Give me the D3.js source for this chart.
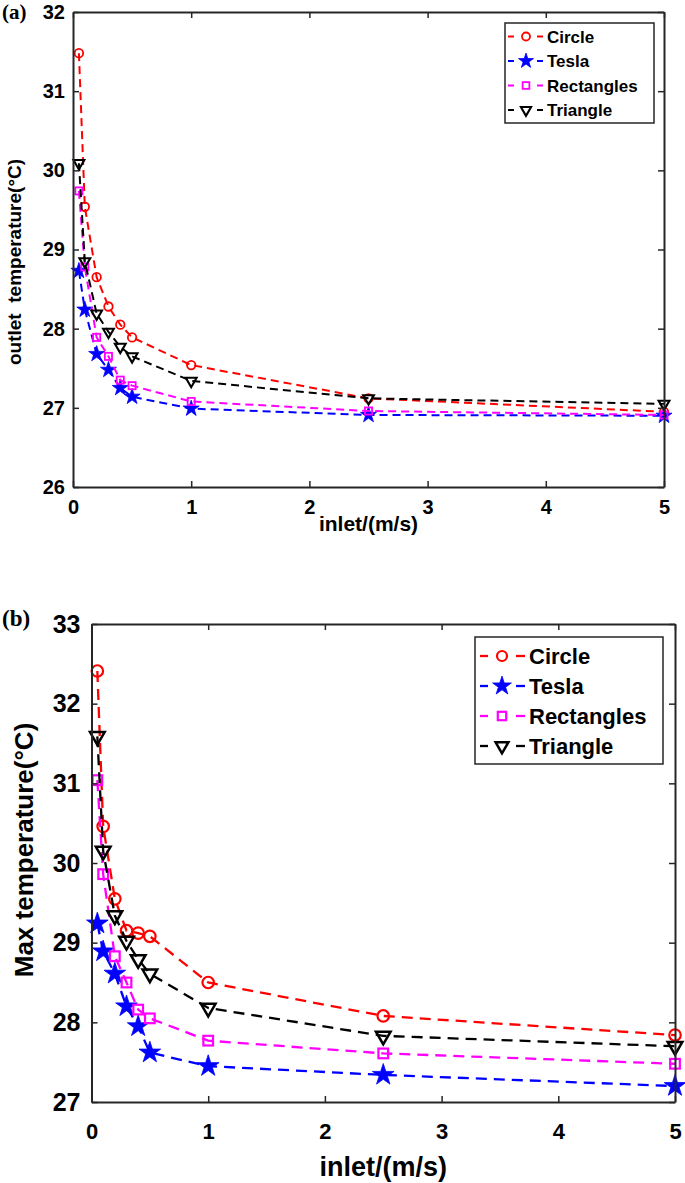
<!DOCTYPE html>
<html>
<head>
<meta charset="utf-8">
<script src="https://cdn.jsdelivr.net/npm/d3@7.9.0/dist/d3.min.js"></script>
<style>
  body { margin: 0; background: #fff; }
  svg { display: block; }
  text { font-family: "Liberation Sans", Arial, sans-serif; font-weight: bold; fill: #000; }
</style>
</head>
<body>
<svg id="chart" width="685" height="1183"></svg>
<script>
// inlet velocity (m/s)
const inlet = [0.05, 0.1, 0.2, 0.3, 0.4, 0.5, 1, 2.5, 5];
const seriesNames = ['Circle', 'Tesla', 'Rectangles', 'Triangle'];

// (a) outlet temperature
const outletCircle = [31.48, 29.54, 28.65, 28.28, 28.05, 27.89, 27.54, 27.12, 26.95];
const outletTesla = [28.73, 28.24, 27.68, 27.48, 27.25, 27.14, 26.99, 26.91, 26.90];
const outletRect = [29.74, 28.78, 27.89, 27.65, 27.35, 27.28, 27.08, 26.96, 26.91];
const outletTri = [30.09, 28.85, 28.19, 27.96, 27.77, 27.65, 27.34, 27.12, 27.05];

// (b) max temperature
const maxCircle = [32.41, 30.46, 29.55, 29.15, 29.12, 29.08, 28.50, 28.08, 27.84];
const maxTesla = [29.24, 28.89, 28.61, 28.20, 27.95, 27.62, 27.45, 27.34, 27.20];
const maxRect = [31.04, 29.86, 28.83, 28.50, 28.16, 28.05, 27.77, 27.61, 27.48];
const maxTri = [31.59, 30.15, 29.34, 29.02, 28.79, 28.61, 28.18, 27.83, 27.70];

const xTicks = [0, 1, 2, 3, 4, 5];
const yTicksA = [26, 27, 28, 29, 30, 31, 32];
const yTicksB = [27, 28, 29, 30, 31, 32, 33];

const colors = ['#ff0000', '#0000ff', '#ff00ff', '#000000'];
const shapes = ['circle', 'star', 'square', 'triangle'];

const svg = d3.select('#chart');

function marker(g, shape, color, s, sw) {
    if (shape === 'circle') {
        return g.append('circle').attr('r', s * 0.5)
            .attr('fill', 'none').attr('stroke', color).attr('stroke-width', sw);
    }
    if (shape === 'star') {
        return g.append('path').attr('d', d3.symbol(d3.symbolStar, s * s * 1.1)())
            .attr('fill', color).attr('stroke', color).attr('stroke-width', 0.8);
    }
    if (shape === 'square') {
        return g.append('rect').attr('x', -s * 0.42).attr('y', -s * 0.42)
            .attr('width', s * 0.84).attr('height', s * 0.84)
            .attr('fill', 'none').attr('stroke', color).attr('stroke-width', sw);
    }
    return g.append('path').attr('d', d3.symbol(d3.symbolTriangle, s * s * 0.7)())
        .attr('transform', 'rotate(180)')
        .attr('fill', 'none').attr('stroke', color).attr('stroke-width', sw * 1.15);
}

function drawPanel(p) {
    const x = d3.scaleLinear().domain([0, 5]).range([p.left, p.right]);
    const y = d3.scaleLinear().domain(p.yDomain).range([p.bottom, p.top]);
    const g = svg.append('g');

    // data lines
    p.series.forEach((vals, i) => {
        const line = d3.line().x((d, j) => x(inlet[j])).y(d => y(d));
        g.append('path').datum(vals)
            .attr('d', line)
            .attr('fill', 'none')
            .attr('stroke', colors[i])
            .attr('stroke-width', p.lw)
            .attr('stroke-dasharray', p.dash);
        vals.forEach((v, j) => {
            const mg = g.append('g').attr('transform', `translate(${x(inlet[j])},${y(v)})`);
            marker(mg, shapes[i], colors[i], p.ms, p.msw);
        });
    });

    // axes: box with inward ticks
    const ax = (axis) => axis.tickSizeInner(-6).tickSizeOuter(0);
    const bottom = g.append('g').attr('transform', `translate(0,${p.bottom})`)
        .call(ax(d3.axisBottom(x)).tickValues(xTicks).tickFormat(d3.format('d')).tickPadding(p.xPad));
    const top = g.append('g').attr('transform', `translate(0,${p.top})`)
        .call(ax(d3.axisTop(x)).tickValues(xTicks).tickFormat(''));
    const left = g.append('g').attr('transform', `translate(${p.left},0)`)
        .call(ax(d3.axisLeft(y)).tickValues(p.yTicks).tickFormat(d3.format('d')).tickPadding(p.yPad));
    const right = g.append('g').attr('transform', `translate(${p.right},0)`)
        .call(ax(d3.axisRight(y)).tickValues(p.yTicks).tickFormat(''));
    [bottom, top, left, right].forEach(a => {
        a.select('.domain').attr('stroke', '#262626').attr('stroke-width', 2);
        a.selectAll('.tick line').attr('stroke', '#262626').attr('stroke-width', 1.5);
    });
    bottom.selectAll('text').style('font-size', p.xTickFont + 'px').attr('fill', '#000');
    left.selectAll('text').style('font-size', p.yTickFont + 'px').attr('fill', '#000');

    // axis labels
    g.append('text').attr('x', (p.left + p.right) / 2).attr('y', p.xLabelY)
        .attr('text-anchor', 'middle').style('font-size', p.xLabelFont + 'px')
        .text('inlet/(m/s)');
    g.append('text')
        .attr('transform', `translate(${p.yLabelX},${p.yLabelY}) rotate(-90)`)
        .attr('text-anchor', 'middle').style('font-size', p.yLabelFont + 'px')
        .text(p.yLabel);

    // panel tag
    g.append('text').attr('x', 2).attr('y', p.tagY)
        .style('font-family', '"Liberation Serif", "Times New Roman", serif')
        .style('font-size', p.tagFont + 'px').text(p.tag);

    // legend
    const L = p.legend;
    g.append('rect').attr('x', L.x).attr('y', L.y).attr('width', L.w).attr('height', L.h)
        .attr('fill', '#fff').attr('stroke', '#262626').attr('stroke-width', 1.5);
    seriesNames.forEach((name, i) => {
        const cy = L.firstY + i * L.step;
        L.segs.forEach(([a, b]) => {
            g.append('line').attr('x1', a).attr('x2', b).attr('y1', cy).attr('y2', cy)
                .attr('stroke', colors[i]).attr('stroke-width', p.lw);
        });
        const mg = g.append('g').attr('transform', `translate(${L.markerX},${cy})`);
        marker(mg, shapes[i], colors[i], L.ms, p.msw);
        g.append('text').attr('x', L.textX).attr('y', cy).attr('dy', '0.36em')
            .style('font-size', L.font + 'px').text(name);
    });
}

drawPanel({
    tag: '(a)', tagY: 19, tagFont: 21,
    left: 73, right: 664, top: 12, bottom: 487,
    yDomain: [26, 32], yTicks: yTicksA,
    series: [outletCircle, outletTesla, outletRect, outletTri],
    lw: 2, dash: '8,5', ms: 8.5, msw: 1.8,
    xPad: 13, yPad: 8, xTickFont: 20, yTickFont: 20,
    xLabelY: 531, xLabelFont: 21,
    yLabel: 'outlet\u00a0\u00a0temperature(°C)', yLabelX: 21, yLabelY: 262, yLabelFont: 19,
    legend: { x: 505, y: 23, w: 149, h: 100, firstY: 36.5, step: 24.5,
              segs: [[508, 514], [537, 543]], markerX: 526, ms: 8, textX: 547, font: 17 }
});

drawPanel({
    tag: '(b)', tagY: 626, tagFont: 23,
    left: 91.5, right: 675, top: 624, bottom: 1102,
    yDomain: [27, 33], yTicks: yTicksB,
    series: [maxCircle, maxTesla, maxRect, maxTri],
    lw: 2.3, dash: '11,7', ms: 11.5, msw: 2.2,
    xPad: 21, yPad: 11, xTickFont: 22, yTickFont: 25,
    xLabelY: 1176, xLabelFont: 27,
    yLabel: 'Max temperature(°C)', yLabelX: 33, yLabelY: 850, yLabelFont: 26,
    legend: { x: 475, y: 637, w: 188, h: 127, firstY: 656, step: 30,
              segs: [[480, 488], [516, 525]], markerX: 502, ms: 10, textX: 529, font: 22 }
});
</script>
</body>
</html>
